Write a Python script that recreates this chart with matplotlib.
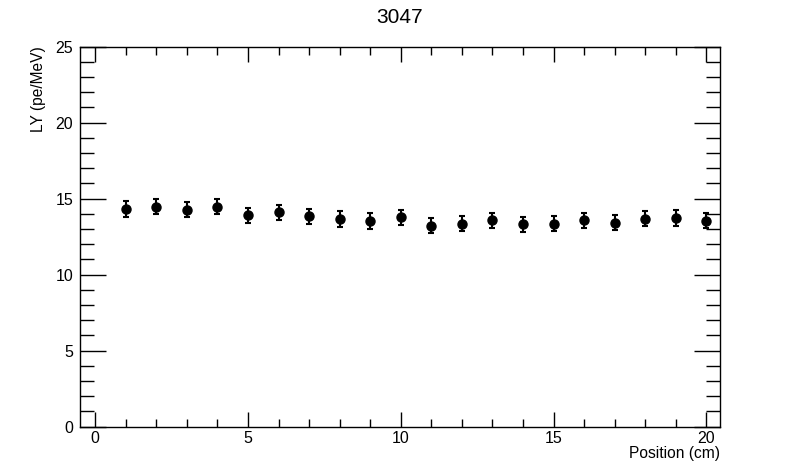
import matplotlib
matplotlib.use("Agg")
from matplotlib import pyplot as plt
from matplotlib.ticker import MultipleLocator

position = [1, 2, 3, 4, 5, 6, 7, 8, 9, 10, 11, 12, 13, 14, 15, 16, 17, 18, 19, 20]
light_yield = [14.33, 14.48, 14.28, 14.48, 13.91, 14.11, 13.85, 13.67, 13.51, 13.78,
               13.21, 13.36, 13.58, 13.32, 13.36, 13.58, 13.41, 13.69, 13.73, 13.54]
ly_error = [0.52, 0.52, 0.5, 0.5, 0.5, 0.5, 0.5, 0.53, 0.52, 0.5,
            0.5, 0.5, 0.5, 0.5, 0.5, 0.5, 0.5, 0.5, 0.5, 0.5]

plt.rcParams['font.family'] = ['Liberation Sans', 'DejaVu Sans']

fig = plt.figure(figsize=(8, 4.74), dpi=100)
ax = fig.add_axes([0.1, 0.0998, 0.8, 0.8017])

ax.errorbar(position, light_yield, yerr=ly_error, fmt='o', color='black',
            markersize=6.5, elinewidth=1.5, capsize=2.5, capthick=1.5)

ax.set_xlim(-0.5, 20.45)
ax.set_ylim(0, 25)
ax.xaxis.set_major_locator(MultipleLocator(5))
ax.xaxis.set_minor_locator(MultipleLocator(1))
ax.yaxis.set_major_locator(MultipleLocator(5))
ax.yaxis.set_minor_locator(MultipleLocator(1))

ax.tick_params(axis='both', which='both', direction='in', top=True, right=True,
               labelsize=11.5, width=1)
ax.tick_params(axis='x', which='major', length=11, pad=3)
ax.tick_params(axis='x', which='minor', length=6)
ax.tick_params(axis='y', which='major', length=19, pad=5)
ax.tick_params(axis='y', which='minor', length=10)
for spine in ax.spines.values():
    spine.set_linewidth(1)

ax.set_xlabel('Position (cm)', fontsize=11.2, loc='right', labelpad=0)
ax.set_ylabel('LY (pe/MeV)', fontsize=11.2, loc='top', labelpad=7)

fig.text(0.499, 0.963, '3047', fontsize=15, ha='center', va='center')

fig.savefig('out.png', dpi=100)
